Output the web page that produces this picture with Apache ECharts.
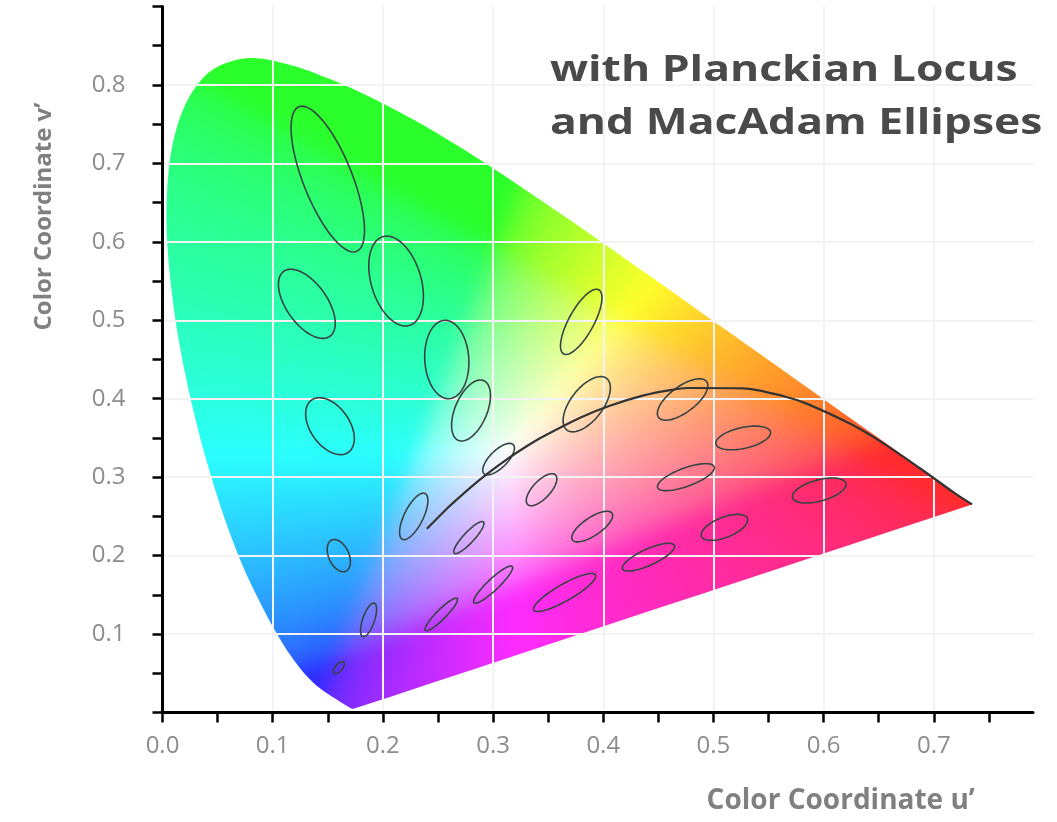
<!DOCTYPE html>
<html>
<head>
<meta charset="utf-8">
<script src="https://cdn.jsdelivr.net/npm/echarts@6/dist/echarts.min.js"></script>
<style>
html,body{margin:0;padding:0;background:#ffffff;}
#chart{width:1057px;height:822px;}
</style>
</head>
<body>
<div id="chart"></div>
<script>
// Boundary of the coloured region (spectral locus)
const locusX = [0.1741,0.1733,0.1726,0.1714,0.1689,0.1644,0.1566,0.1440,0.1355,0.1241,0.1096,0.0913,0.0687,0.0454,0.0235,0.0082,0.0039,0.0139,0.0389,0.0743,0.1142,0.1547,0.1929,0.2296,0.2658,0.3016,0.3373,0.3731,0.4087,0.4441,0.4788,0.5125,0.5448,0.5752,0.6029,0.6270,0.6658,0.6915,0.7079,0.7190,0.7260,0.7300,0.7334,0.7347];
const locusY = [0.0050,0.0048,0.0048,0.0051,0.0069,0.0109,0.0177,0.0297,0.0399,0.0578,0.0868,0.1327,0.2007,0.2950,0.4127,0.5384,0.6548,0.7502,0.8120,0.8338,0.8262,0.8059,0.7816,0.7543,0.7243,0.6923,0.6589,0.6245,0.5896,0.5547,0.5202,0.4866,0.4544,0.4242,0.3965,0.3725,0.3340,0.3083,0.2920,0.2809,0.2740,0.2700,0.2666,0.2653];

// Planckian locus
const planckX = [0.2399,0.2564,0.2637,0.2807,0.2952,0.3135,0.3323,0.3451,0.3805,0.4053,0.4366,0.4593,0.4765,0.5269,0.5646,0.5857,0.6251,0.6528,0.6867,0.7185,0.7347];
const planckY = [0.2342,0.2576,0.2672,0.2883,0.3048,0.3237,0.3410,0.3516,0.3767,0.3908,0.4042,0.4107,0.4137,0.4133,0.4029,0.3931,0.3674,0.3444,0.3120,0.2800,0.2653];

// MacAdam ellipses: centre, semi-axes (x1e-3), angle (deg)
const ellX     = [0.160,0.187,0.253,0.150,0.131,0.212,0.258,0.152,0.280,0.380,0.160,0.228,0.305,0.385,0.472,0.527,0.475,0.510,0.596,0.344,0.390,0.441,0.278,0.300,0.365];
const ellY     = [0.057,0.118,0.125,0.680,0.521,0.550,0.450,0.365,0.385,0.498,0.200,0.250,0.323,0.393,0.399,0.350,0.300,0.236,0.283,0.284,0.237,0.198,0.223,0.163,0.153];
const ellA     = [0.85,2.2,2.5,9.6,4.7,5.8,5.0,3.8,4.0,4.4,2.1,3.1,2.3,3.8,3.2,2.6,2.9,2.4,2.6,2.3,2.5,2.8,2.4,2.9,3.6];
const ellB     = [0.35,0.55,0.50,2.3,2.0,2.3,2.0,1.9,1.5,1.2,0.95,0.9,0.9,1.6,1.4,1.3,1.1,1.2,1.3,0.9,1.0,0.95,0.55,0.6,0.95];
const ellTheta = [62.5,77,55.5,105,112.5,100,92,110,75.5,70,104,72,58,65.5,51,20,29.5,33.5,24,60,47,34.5,57.5,54,40];
const ELLIPSE_MAG = 10; // ellipses drawn 10x enlarged

// Axis ticks and labels
const xTickValues  = [0,0.05,0.1,0.15,0.2,0.25,0.3,0.35,0.4,0.45,0.5,0.55,0.6,0.65,0.7,0.75];
const xLabelValues = [0,0.1,0.2,0.3,0.4,0.5,0.6,0.7];
const yTickValues  = [0,0.05,0.1,0.15,0.2,0.25,0.3,0.35,0.4,0.45,0.5,0.55,0.6,0.65,0.7,0.75,0.8,0.85,0.9];
const yLabelValues = [0.1,0.2,0.3,0.4,0.5,0.6,0.7,0.8];

const titleText = 'with Planckian Locus\nand MacAdam Ellipses';
const xName = 'Color Coordinate u\u2019';
const yName = 'Color Coordinate v\u2019';

function chromaColor(x, y) {
  if (y < 0.001) y = 0.001;
  const X = x / y, Y = 1, Z = (1 - x - y) / y;
  let r = 3.2406 * X - 1.5372 * Y - 0.4986 * Z;
  let g = -0.9689 * X + 1.8758 * Y + 0.0415 * Z;
  let b = 0.0557 * X - 0.2040 * Y + 1.0570 * Z;
  r = Math.max(r, 0); g = Math.max(g, 0); b = Math.max(b, 0);
  const mx = Math.max(r, g, b);
  r /= mx; g /= mx; b /= mx;
  const gam = c => c <= 0.0031308 ? 12.92 * c : 1.055 * Math.pow(c, 1 / 2.4) - 0.055;
  const W = 0.17; // light wash towards white
  return [255 * (W + (1 - W) * gam(r)), 255 * (W + (1 - W) * gam(g)), 255 * (W + (1 - W) * gam(b))];
}

function renderGamut(params, api) {
  const W = api.getWidth(), H = api.getHeight();
  const raw = locusX.map((x, i) => api.coord([x, locusY[i]]));
  // duplicate the two corner points so the smoothed outline keeps sharp corners
  const pts = [raw[0]].concat(raw, [raw[raw.length - 1]]);
  const o = api.coord([0, 0]), e = api.coord([1, 1]);
  const sx = e[0] - o[0], sy = e[1] - o[1];
  let x0 = Infinity, x1 = -Infinity, y0 = Infinity, y1 = -Infinity;
  raw.forEach(p => { x0 = Math.min(x0, p[0]); x1 = Math.max(x1, p[0]); y0 = Math.min(y0, p[1]); y1 = Math.max(y1, p[1]); });
  const M = 36;
  x0 = Math.max(0, Math.floor(x0) - M); y0 = Math.max(0, Math.floor(y0) - M);
  x1 = Math.min(W, Math.ceil(x1) + M); y1 = Math.min(H, Math.ceil(y1) + M);
  const bw = x1 - x0, bh = y1 - y0;
  const raw1 = document.createElement('canvas');
  raw1.width = W; raw1.height = H;
  const ctx1 = raw1.getContext('2d');
  const img = ctx1.createImageData(bw, bh);
  const d = img.data;
  for (let j = 0; j < bh; j++) {
    const v = (y0 + j + 0.5 - o[1]) / sy;
    for (let i = 0; i < bw; i++) {
      const u = (x0 + i + 0.5 - o[0]) / sx;
      const c = chromaColor(u, v);
      const k = (j * bw + i) * 4;
      d[k] = c[0]; d[k + 1] = c[1]; d[k + 2] = c[2]; d[k + 3] = 255;
    }
  }
  ctx1.putImageData(img, x0, y0);
  // soften the colour transitions
  const cv = document.createElement('canvas');
  cv.width = W; cv.height = H;
  const ctx = cv.getContext('2d');
  ctx.filter = 'blur(9px)';
  ctx.drawImage(raw1, 0, 0);
  return {
    type: 'polygon',
    shape: { points: pts, smooth: 0.35 },
    style: { fill: { image: cv, repeat: 'no-repeat' }, stroke: null }
  };
}

function renderEllipse(params, api) {
  const cx = api.value(0), cy = api.value(1);
  const a = api.value(2) * 1e-3 * ELLIPSE_MAG, b = api.value(3) * 1e-3 * ELLIPSE_MAG;
  const th = api.value(4) * Math.PI / 180;
  const pts = [];
  const N = 90;
  for (let k = 0; k < N; k++) {
    const t = k / N * 2 * Math.PI;
    const dx = a * Math.cos(t), dy = b * Math.sin(t);
    pts.push(api.coord([cx + dx * Math.cos(th) - dy * Math.sin(th), cy + dx * Math.sin(th) + dy * Math.cos(th)]));
  }
  return {
    type: 'polygon',
    shape: { points: pts },
    style: { fill: 'none', stroke: '#384444', lineWidth: 1.6 }
  };
}

const chart = echarts.init(document.getElementById('chart'), null, { renderer: 'canvas' });
const labelFont = 'Open Sans';
const gridLine = { show: true, showMaxLine: false, showMinLine: false, lineStyle: { color: '#f3f3f3', width: 2 } };

chart.setOption({
  backgroundColor: '#ffffff',
  animation: false,
  graphic: [{
    type: 'text',
    x: 550, y: 44,
    scaleX: 1.235,
    z: 10,
    style: {
      text: titleText,
      font: 'bold 36px "Open Sans"',
      fill: '#4a4a4a',
      lineHeight: 53,
      textAlign: 'left',
      textVerticalAlign: 'top'
    }
  }],
  grid: { left: 162.5, top: 6.5, right: 24, bottom: 109.5, containLabel: false },
  xAxis: [{
    type: 'value',
    min: 0, max: 0.79, interval: 0.1,
    name: xName,
    nameLocation: 'middle',
    nameGap: 89,
    nameTextStyle: { fontFamily: labelFont, fontSize: 28, fontWeight: 'bold', color: '#808080', align: 'center', verticalAlign: 'middle', padding: [0, 0, 0, 486] },
    axisLine: { show: true, onZero: false, lineStyle: { color: '#000', width: 3 } },
    axisTick: { show: true, inside: false, length: 10, customValues: xTickValues, lineStyle: { color: '#000', width: 2.5 } },
    axisLabel: { customValues: xLabelValues, margin: 22, fontFamily: labelFont, fontSize: 24, color: '#8c8c8c', formatter: v => v.toFixed(1) },
    splitLine: { show: false }
  }, {
    type: 'value',
    position: 'top',
    min: 0, max: 0.79, interval: 0.1,
    axisLine: { show: false }, axisTick: { show: false }, axisLabel: { show: false },
    splitLine: gridLine
  }],
  yAxis: [{
    type: 'value',
    min: 0, max: 0.9, interval: 0.1,
    name: yName,
    nameLocation: 'middle',
    nameGap: 118,
    nameTextStyle: { fontFamily: labelFont, fontSize: 24, fontWeight: 'bold', color: '#808080', align: 'center', verticalAlign: 'middle', padding: [0, 0, 0, 286] },
    axisLine: { show: true, onZero: false, lineStyle: { color: '#000', width: 3 } },
    axisTick: { show: true, inside: false, length: 10, customValues: yTickValues, lineStyle: { color: '#000', width: 2.5 } },
    axisLabel: { customValues: yLabelValues, margin: 37, fontFamily: labelFont, fontSize: 24, color: '#8c8c8c', formatter: v => v.toFixed(1) },
    splitLine: { show: false }
  }, {
    type: 'value',
    position: 'right',
    min: 0, max: 0.9, interval: 0.1,
    axisLine: { show: false }, axisTick: { show: false }, axisLabel: { show: false },
    splitLine: gridLine
  }],
  series: [
    {
      name: 'gamut',
      type: 'custom',
      coordinateSystem: 'cartesian2d',
      xAxisIndex: 0, yAxisIndex: 0,
      z: -1,
      silent: true,
      clip: false,
      renderItem: renderGamut,
      data: [[locusX[0], locusY[0]]]
    },
    {
      name: 'MacAdam ellipses',
      type: 'custom',
      coordinateSystem: 'cartesian2d',
      xAxisIndex: 0, yAxisIndex: 0,
      z: 3,
      silent: true,
      renderItem: renderEllipse,
      encode: { x: 0, y: 1 },
      data: ellX.map((x, i) => [x, ellY[i], ellA[i], ellB[i], ellTheta[i]])
    },
    {
      name: 'Planckian locus',
      type: 'line',
      xAxisIndex: 0, yAxisIndex: 0,
      z: 4,
      silent: true,
      showSymbol: false,
      smooth: 0.3,
      lineStyle: { color: '#333333', width: 2.2 },
      data: planckX.map((x, i) => [x, planckY[i]])
    }
  ]
});
</script>
</body>
</html>
